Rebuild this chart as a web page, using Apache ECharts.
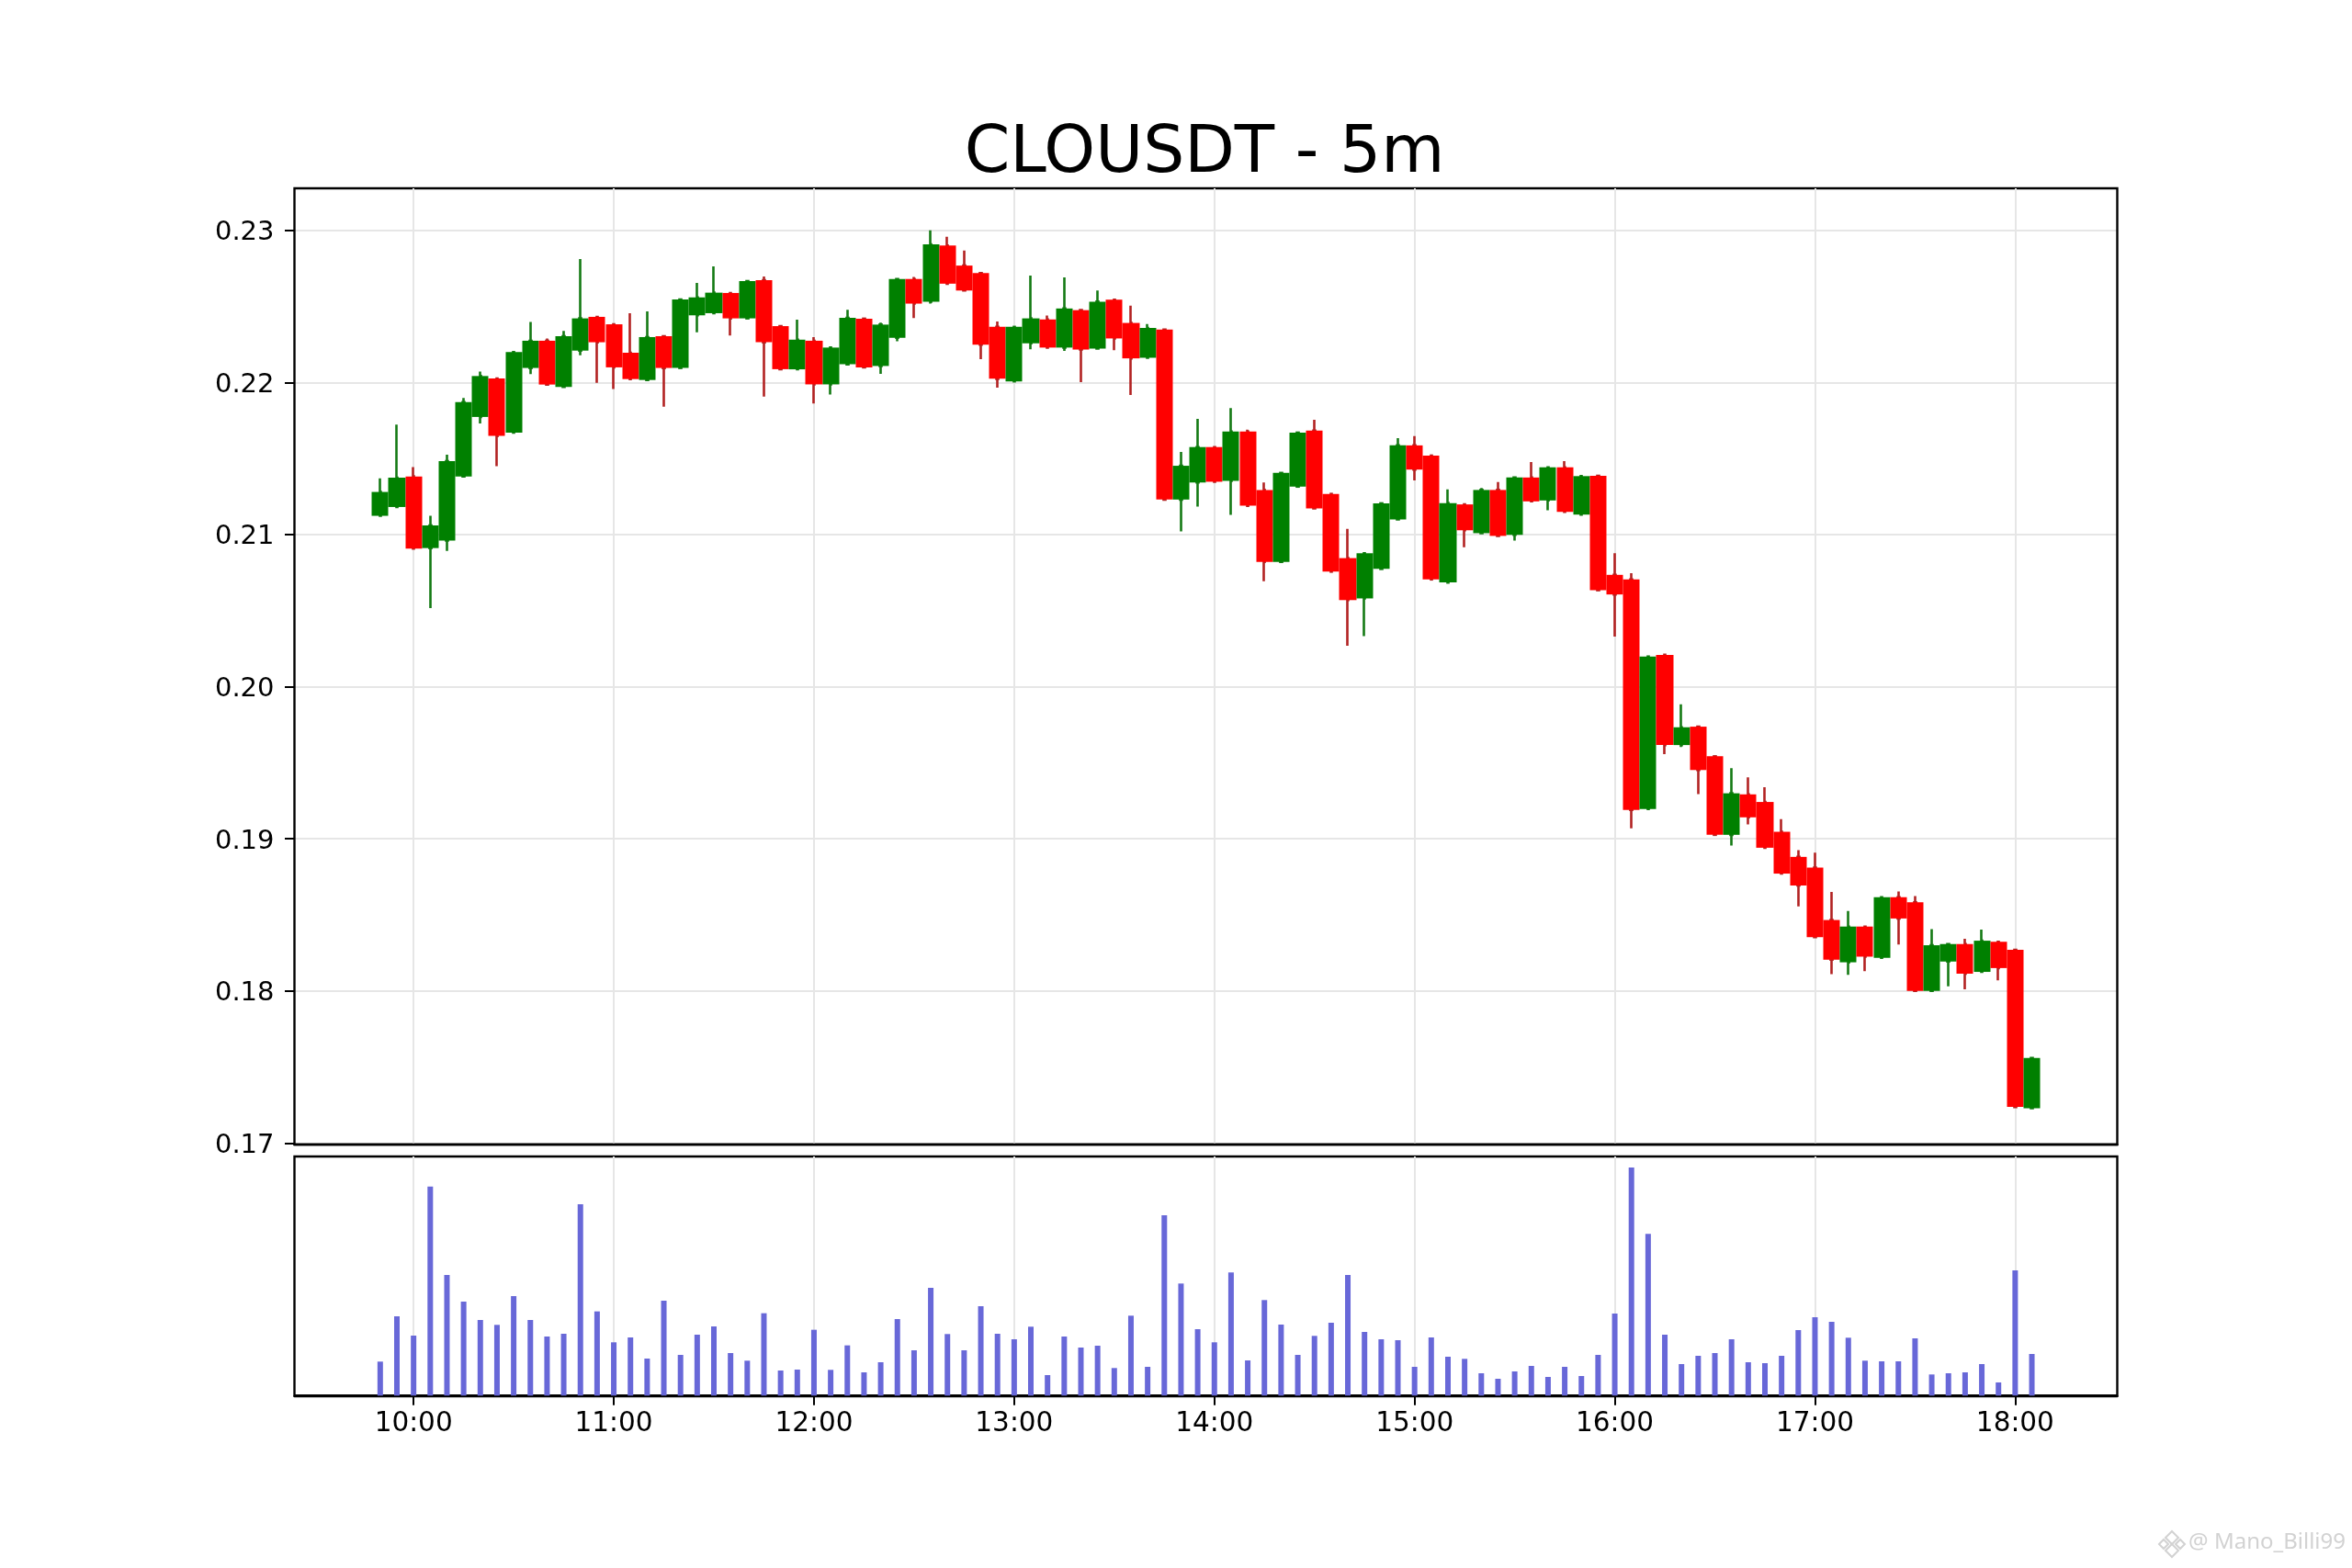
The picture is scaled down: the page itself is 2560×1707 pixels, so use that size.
<!DOCTYPE html>
<html>
<head>
<meta charset="utf-8">
<style>html,body{margin:0;padding:0;background:#fff}#c{width:2560px;height:1707px}</style>
<script src="https://cdn.jsdelivr.net/npm/echarts@6/dist/echarts.min.js"></script>
</head>
<body>
<div id="c"></div>
<script>
const titleText = 'CLOUSDT - 5m';
const times = ['09:50','09:55','10:00','10:05','10:10','10:15','10:20','10:25','10:30','10:35','10:40','10:45','10:50','10:55','11:00','11:05','11:10','11:15','11:20','11:25','11:30','11:35','11:40','11:45','11:50','11:55','12:00','12:05','12:10','12:15','12:20','12:25','12:30','12:35','12:40','12:45','12:50','12:55','13:00','13:05','13:10','13:15','13:20','13:25','13:30','13:35','13:40','13:45','13:50','13:55','14:00','14:05','14:10','14:15','14:20','14:25','14:30','14:35','14:40','14:45','14:50','14:55','15:00','15:05','15:10','15:15','15:20','15:25','15:30','15:35','15:40','15:45','15:50','15:55','16:00','16:05','16:10','16:15','16:20','16:25','16:30','16:35','16:40','16:45','16:50','16:55','17:00','17:05','17:10','17:15','17:20','17:25','17:30','17:35','17:40','17:45','17:50','17:55','18:00','18:05'];
const opens = [.21123,.21181,.21382,.20911,.2096,.21382,.21773,.22026,.2167,.22095,.22274,.2197,.22209,.22431,.22382,.22195,.22016,.22304,.22095,.22441,.22455,.22588,.22421,.22672,.2237,.22086,.22274,.21987,.22119,.22419,.22108,.22294,.2268,.22531,.229,.22768,.22719,.22365,.22007,.22257,.22414,.22229,.22475,.22222,.22544,.22391,.22162,.22348,.2123,.21342,.21575,.21353,.21677,.21293,.2082,.21315,.21683,.21267,.20845,.2058,.20774,.21099,.21586,.21519,.20685,.21198,.21009,.21293,.20998,.21375,.21224,.21442,.21131,.21386,.20735,.20705,.19196,.20209,.19616,.19737,.19542,.19026,.19292,.19242,.19046,.18881,.18811,.18466,.18188,.18423,.18218,.18616,.18583,.18,.18193,.18308,.18125,.18323,.1827,.17229];
const closes = [.2128,.21374,.20907,.2106,.21483,.21871,.22042,.21648,.22199,.22274,.21986,.22304,.22421,.22264,.22099,.22022,.22298,.22095,.22545,.22559,.2259,.22421,.22666,.22264,.22087,.22281,.21987,.22229,.22425,.22099,.2238,.2268,.22518,.22908,.22649,.22604,.22248,.22024,.22365,.22421,.22229,.22486,.22216,.22531,.22289,.22158,.22358,.2123,.21452,.21575,.21347,.21677,.21189,.2082,.21405,.2167,.21172,.20756,.20569,.20877,.21205,.21586,.21427,.20705,.21207,.21028,.21293,.20991,.21375,.21218,.21442,.21149,.21384,.20634,.20606,.1919,.20198,.19616,.19733,.19452,.19026,.19299,.19141,.18941,.18771,.18693,.18353,.18205,.18423,.18225,.18616,.18476,.18,.183,.18308,.18113,.1833,.1815,.17237,.17559];
const highs = [.2137,.21722,.21443,.21123,.21525,.21897,.22072,.22026,.22205,.22398,.22288,.22338,.22811,.22431,.22382,.22455,.22467,.22304,.22545,.22654,.22763,.22588,.22666,.22696,.22371,.22412,.22298,.22229,.22477,.22419,.22393,.2268,.22693,.23,.22958,.22867,.22723,.22401,.22365,.22703,.2244,.2269,.22475,.22604,.22544,.22505,.22384,.22348,.21543,.21761,.2158,.21832,.2169,.21342,.21405,.2167,.21754,.21267,.21037,.20877,.21205,.21634,.21647,.21519,.21297,.21198,.21306,.21345,.21375,.21476,.21442,.21483,.21384,.21386,.20877,.20746,.20198,.20209,.19884,.19737,.19542,.19464,.19404,.19339,.19129,.18926,.18909,.18651,.18526,.18423,.18624,.18653,.18623,.18406,.18308,.18343,.18403,.18323,.1827,.17559];
const lows = [.21123,.21181,.20907,.20517,.20893,.21382,.2173,.21449,.2167,.22054,.21986,.2197,.22179,.21998,.21956,.22022,.22016,.21841,.22095,.2233,.22455,.22308,.22421,.21907,.22087,.22086,.21862,.2192,.22119,.22099,.22056,.2227,.22423,.22518,.22649,.22604,.22153,.21966,.22007,.22218,.22229,.22207,.22002,.22222,.22212,.21918,.22162,.2123,.21021,.21183,.21347,.21129,.21189,.20693,.2082,.21315,.21172,.20756,.20269,.20332,.20774,.21099,.21356,.20705,.20685,.20916,.21009,.20991,.20961,.21218,.21159,.21149,.21131,.20634,.2033,.19069,.19196,.19556,.19603,.19294,.19026,.18956,.19094,.18941,.18771,.18556,.18353,.1811,.18105,.1813,.18218,.18305,.18,.18,.1803,.1801,.18125,.1807,.17237,.17229];
const volumes = [111,259,196,683,394,307,247,231,325,247,193,202,625,275,174,190,121,310,133,199,226,139,114,269,82,85,215,84,164,76,109,250,148,352,201,148,292,202,184,225,67,193,157,163,90,261,94,589,366,217,174,402,115,312,232,133,195,238,394,208,184,181,94,190,127,120,73,55,79,97,61,94,64,133,268,745,528,199,103,130,139,184,109,106,130,214,256,241,189,114,112,112,187,69,73,76,103,43,409,136];
const hourLabels = ['10:00','11:00','12:00','13:00','14:00','15:00','16:00','17:00','18:00'];
const priceTicks = [0.17,0.18,0.19,0.20,0.21,0.22,0.23];
const watermark = '@ Mano_Billi99';

const toMin = s => { const p = s.split(':'); return +p[0]*60 + +p[1]; };
const fmtMin = v => { const h = Math.floor(v/60), m = Math.round(v-h*60); return String(h).padStart(2,'0')+':'+String(m).padStart(2,'0'); };
const mins = times.map(toMin);
const hourTicks = hourLabels.map(toMin);
const wickData = mins.map((m,i)=>[m,opens[i],closes[i],lows[i],highs[i]]);
const bodyData = mins.map((m,i)=>[m,opens[i],closes[i],Math.min(opens[i],closes[i]),Math.max(opens[i],closes[i])]);
const volData = mins.map((m,i)=>[m,volumes[i]]);
const FONT = 'DejaVu Sans';
const GRIDC = '#e6e6e6';
const xRange = {min:564.3,max:1110.6};
const FRAME = {color:'#000',width:2.4};

const chart = echarts.init(document.getElementById('c'),null,{renderer:'canvas',width:2560,height:1707});
const wm = '#d2d2d2';
chart.setOption({
  animation:false,
  backgroundColor:'#fff',
  title:{text:titleText,left:1306,top:128,textAlign:'center',textStyle:{fontFamily:FONT,fontSize:71,fontWeight:'normal',color:'#000'}},
  grid:[
    {left:320.5,right:255.5,top:205,height:1041,show:true,borderColor:'#000',borderWidth:2.4,backgroundColor:'transparent'},
    {left:320.5,right:255.5,top:1259,height:260.3,show:true,borderColor:'#000',borderWidth:2.4,backgroundColor:'transparent'}
  ],
  xAxis:[
    {type:'value',gridIndex:0,z:0,...xRange,axisLine:{show:true,onZero:false,lineStyle:FRAME},axisLabel:{show:false},
     axisTick:{show:false,customValues:hourTicks},splitLine:{show:true,lineStyle:{color:GRIDC,width:2}}},
    {type:'value',gridIndex:1,z:0,...xRange,axisLine:{show:true,onZero:false,lineStyle:FRAME},
     axisTick:{show:true,inside:false,length:10.5,customValues:hourTicks,lineStyle:{color:'#000',width:2}},
     axisLabel:{show:true,customValues:hourTicks,formatter:fmtMin,margin:16,fontFamily:FONT,fontSize:29.5,color:'#000'},
     splitLine:{show:true,lineStyle:{color:GRIDC,width:2}}}
  ],
  yAxis:[
    {type:'value',gridIndex:0,z:-1,min:0.1699,max:0.23276,axisLine:{show:false},
     axisTick:{show:true,length:10.5,customValues:priceTicks,lineStyle:{color:'#000',width:2}},
     axisLabel:{show:true,customValues:priceTicks,formatter:v=>v.toFixed(2),margin:22,verticalAlign:'top',lineHeight:6,fontFamily:FONT,fontSize:29,color:'#000'},
     splitLine:{show:true,lineStyle:{color:GRIDC,width:2}}},
    {type:'value',gridIndex:1,min:0,max:781,show:false,splitLine:{show:false}}
  ],
  series:[
    {name:'wick',type:'candlestick',xAxisIndex:0,yAxisIndex:0,data:wickData,encode:{x:0,y:[1,2,3,4]},barWidth:2,
     itemStyle:{color:'#147a14',color0:'#b22222',borderColor:'#147a14',borderColor0:'#b22222',borderWidth:2.6}},
    {name:'body',type:'candlestick',xAxisIndex:0,yAxisIndex:0,data:bodyData,encode:{x:0,y:[1,2,3,4]},barWidth:18.6,
     itemStyle:{color:'#008000',color0:'#ff0000',borderColor:'#008000',borderColor0:'#ff0000',borderWidth:0}},
    {name:'volume',type:'bar',xAxisIndex:1,yAxisIndex:1,data:volData,barWidth:6,itemStyle:{color:'#6868d8'}}
  ],
  graphic:[
    {type:'text',right:7,top:1667,style:{text:watermark,fontFamily:'Noto Sans',fontSize:24,fill:wm}},
    {type:'group',x:2364,y:1681,children:[
      {type:'polygon',shape:{points:[[0,-14],[7,-7],[0,0],[-7,-7]]},style:{fill:'none',stroke:wm,lineWidth:2}},
      {type:'polygon',shape:{points:[[0,0],[7,7],[0,14],[-7,7]]},style:{fill:'none',stroke:wm,lineWidth:2}},
      {type:'polygon',shape:{points:[[-14,0],[-9,-5],[-4,0],[-9,5]]},style:{fill:'none',stroke:wm,lineWidth:2}},
      {type:'polygon',shape:{points:[[14,0],[9,-5],[4,0],[9,5]]},style:{fill:'none',stroke:wm,lineWidth:2}}
    ]}
  ]
});
</script>
</body>
</html>
